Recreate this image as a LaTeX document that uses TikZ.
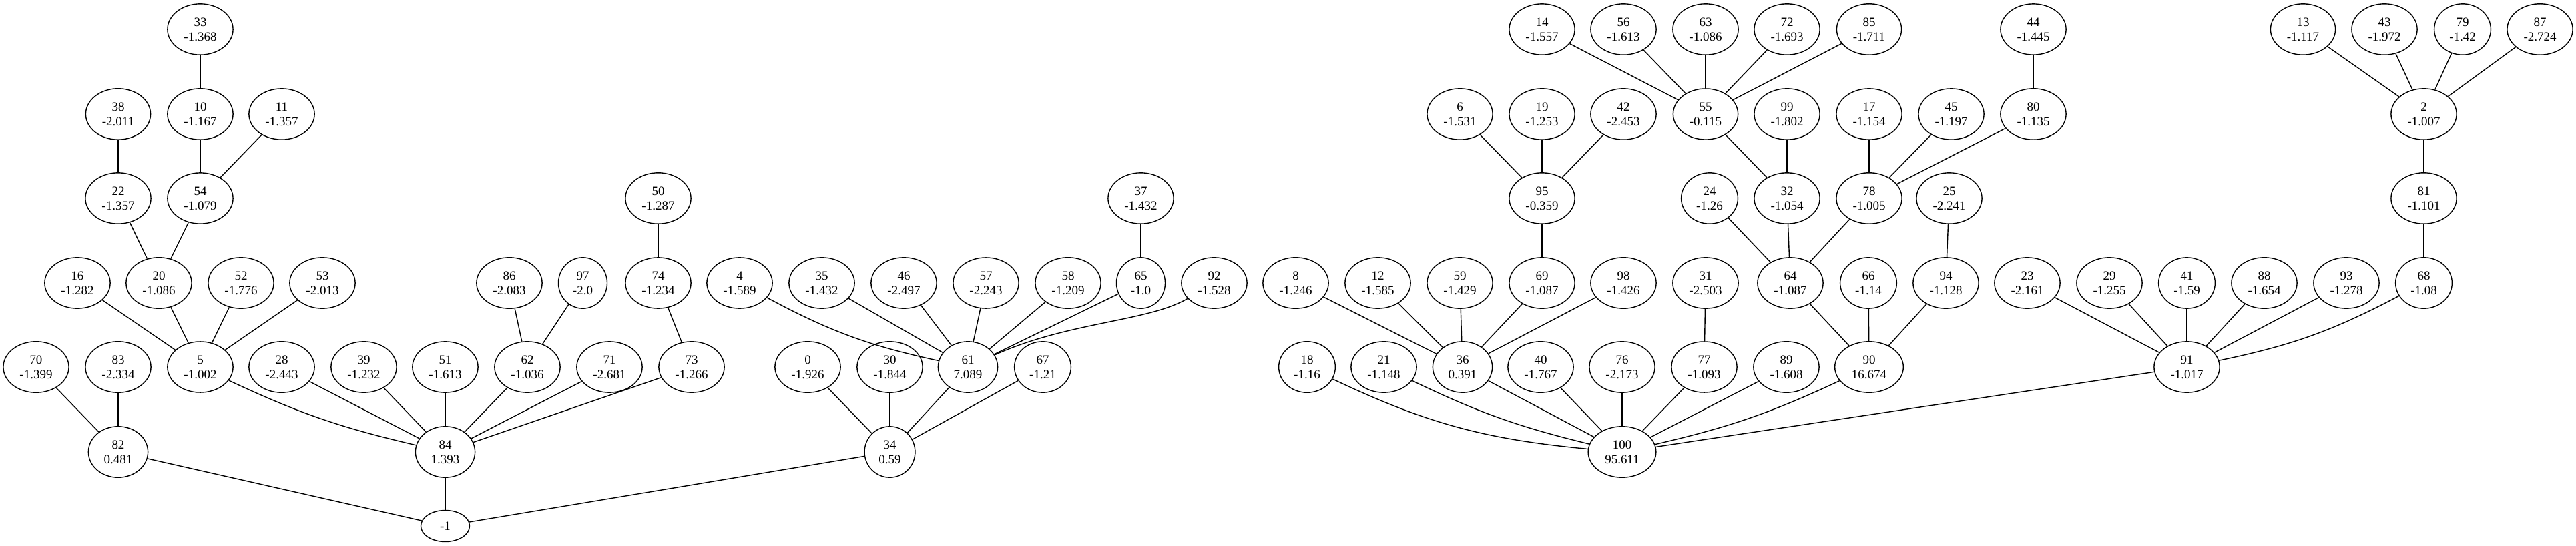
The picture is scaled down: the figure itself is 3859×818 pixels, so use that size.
\documentclass[tikz,border=0pt]{standalone}
\usepackage{fontspec}
\setmainfont{Liberation Serif}
\usepackage{tikz}
\usetikzlibrary{shapes.geometric}

\begin{document}
\begin{tikzpicture}[x=0.01cm, y=-0.01cm,
        vertex/.style={ellipse, draw, line width=0.4pt, inner xsep=2.9pt,
            inner ysep=2.7pt, minimum width=0.73cm, minimum height=0.47cm,
            align=center, font=\fontsize{5.4}{6.3}\selectfont},
        edge/.style={line width=0.4pt}]
    \useasboundingbox (0,0) rectangle (3859,818);
    \def\yA{44}
    \def\yB{171}
    \def\yC{297}
    \def\yD{424}
    \def\yE{550}
    \def\yF{677}
    % ranks, top to bottom
    \foreach \n/\v/\x in {33/-1.368/300, 14/-1.557/2310, 56/-1.613/2432,
        63/-1.086/2555, 72/-1.693/2677, 85/-1.711/2800, 44/-1.445/3046,
        13/-1.117/3450, 43/-1.972/3572, 79/-1.42/3689, 87/-2.724/3805}
        \node[vertex] (n\n) at (\x,\yA) {\n\\\v};
    \foreach \n/\v/\x in {38/-2.011/177, 10/-1.167/300, 11/-1.357/422,
        6/-1.531/2187, 19/-1.253/2310, 42/-2.453/2432, 55/-0.115/2555,
        99/-1.802/2677, 17/-1.154/2800, 45/-1.197/2923, 80/-1.135/3046,
        2/-1.007/3631}
        \node[vertex] (n\n) at (\x,\yB) {\n\\\v};
    \foreach \n/\v/\x in {22/-1.357/177, 54/-1.079/300, 50/-1.287/986,
        37/-1.432/1709, 95/-0.359/2310, 24/-1.26/2561, 32/-1.054/2677,
        78/-1.005/2800, 25/-2.241/2920, 81/-1.101/3631}
        \node[vertex] (n\n) at (\x,\yC) {\n\\\v};
    \foreach \n/\v/\x in {16/-1.282/116, 20/-1.086/238, 52/-1.776/361,
        53/-2.013/483, 86/-2.083/763, 97/-2.0/873, 74/-1.234/986,
        4/-1.589/1108, 35/-1.432/1231, 46/-2.497/1354, 57/-2.243/1477,
        58/-1.209/1600, 65/-1.0/1709, 92/-1.528/1819, 8/-1.246/1941,
        12/-1.585/2064, 59/-1.429/2187, 69/-1.087/2310, 98/-1.426/2432,
        31/-2.503/2555, 64/-1.087/2682, 66/-1.14/2799, 94/-1.128/2915,
        23/-2.161/3037, 29/-1.255/3160, 41/-1.59/3276, 88/-1.654/3392,
        93/-1.278/3515, 68/-1.08/3631}
        \node[vertex] (n\n) at (\x,\yD) {\n\\\v};
    \foreach \n/\v/\x in {70/-1.399/54, 83/-2.334/177, 5/-1.002/300,
        28/-2.443/422, 39/-1.232/545, 51/-1.613/667, 62/-1.036/790,
        71/-2.681/913, 73/-1.266/1036, 0/-1.926/1210, 30/-1.844/1333,
        61/7.089/1450, 67/-1.21/1562, 18/-1.16/1958, 21/-1.148/2073,
        36/0.391/2191, 40/-1.767/2308, 76/-2.173/2430, 77/-1.093/2553,
        89/-1.608/2676, 90/16.674/2800, 91/-1.017/3276}
        \node[vertex] (n\n) at (\x,\yE) {\n\\\v};
    \foreach \n/\v/\x in {82/0.481/177, 84/1.393/667, 34/0.59/1333,
        100/95.611/2430}
        \node[vertex] (n\n) at (\x,\yF) {\n\\\v};
    \node[vertex] (nroot) at (667,788) {-1};
    % tree edges
    \foreach \p/\c in {root/82, root/84, root/34, 82/70, 82/83,
        84/28, 84/39, 84/51, 84/62, 84/71, 84/73,
        5/16, 5/20, 5/52, 5/53, 20/22, 20/54, 22/38, 54/10, 54/11, 10/33,
        62/86, 62/97, 73/74, 74/50,
        34/0, 34/30, 34/61, 34/67,
        61/35, 61/46, 61/57, 61/58, 61/65, 65/37}
        \draw[edge] (n\p) -- (n\c);
    \foreach \p/\c in {100/36, 100/40, 100/76, 100/77, 100/89, 100/91,
        36/8, 36/12, 36/59, 36/69, 36/98, 69/95, 95/6, 95/19, 95/42,
        77/31, 90/64, 90/66, 90/94, 64/24, 64/32, 64/78, 32/55, 32/99,
        55/14, 55/56, 55/63, 55/72, 55/85, 78/17, 78/45, 78/80, 80/44,
        94/25, 91/23, 91/29, 91/41, 91/88, 91/93, 68/81, 81/2,
        2/13, 2/43, 2/79, 2/87}
        \draw[edge] (n\p) -- (n\c);
    % edges bowed round their neighbours
    \draw[edge] (n5) to[bend right=6] (n84);
    \draw[edge] (n4) to[bend right=8] (n61);
    \draw[edge] (n92) .. controls (1720,482) and (1600,482) .. (n61);
    \draw[edge] (n18) to[bend right=10] (n100);
    \draw[edge] (n21) to[bend right=6] (n100);
    \draw[edge] (n90) to[bend left=6] (n100);
    \draw[edge] (n68) to[bend left=8] (n91);
\end{tikzpicture}
\end{document}
